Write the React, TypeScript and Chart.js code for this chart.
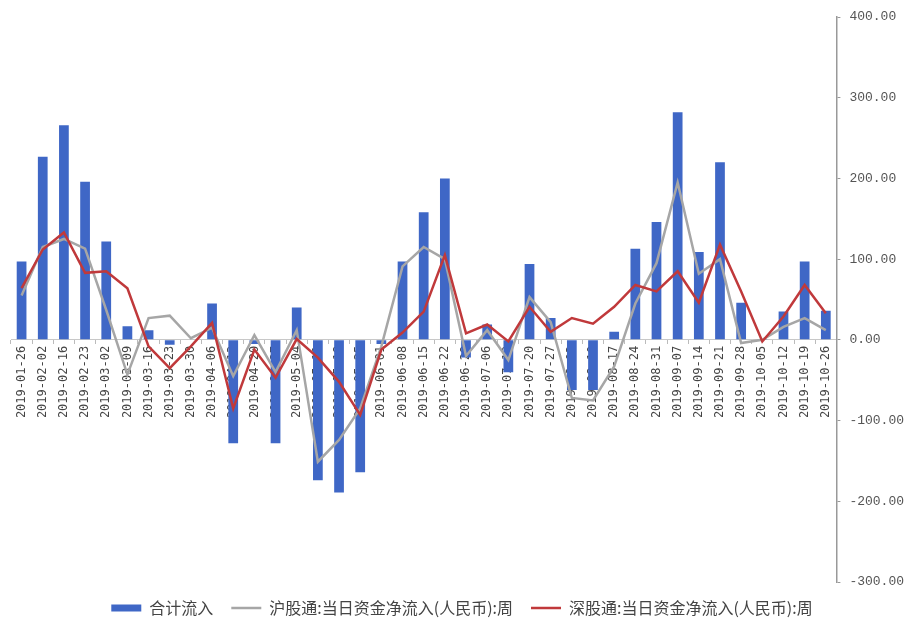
import React, { useEffect, useRef } from "react";
import { Chart, registerables } from "chart.js";

Chart.register(...registerables);

const categories = [
  "2019-01-26", "2019-02-02", "2019-02-16", "2019-02-23", "2019-03-02", "2019-03-09",
  "2019-03-16", "2019-03-23", "2019-03-30", "2019-04-06", "2019-04-13", "2019-04-20",
  "2019-04-27", "2019-05-04", "2019-05-11", "2019-05-18", "2019-05-25", "2019-06-01",
  "2019-06-08", "2019-06-15", "2019-06-22", "2019-06-29", "2019-07-06", "2019-07-13",
  "2019-07-20", "2019-07-27", "2019-08-03", "2019-08-10", "2019-08-17", "2019-08-24",
  "2019-08-31", "2019-09-07", "2019-09-14", "2019-09-21", "2019-09-28", "2019-10-05",
  "2019-10-12", "2019-10-19", "2019-10-26",
];

const totalInflow = [
  97, 227, 266, 196, 122, 17, 12, -6, 0, 45, -128, -5, -128, 40, -174, -189, -164, -5,
  97, 158, 200, -22, 19, -40, 94, 27, -62, -62, 10, 113, 146, 282, 109, 220, 46, 1,
  35, 97, 36,
];

const shanghaiConnect = [
  55, 115, 125, 113, 37, -43, 27, 30, 2, 15, -45, 6, -40, 12, -151, -124, -85, -8,
  91, 115, 100, -20, 12, -25, 53, 22, -72, -75, -33, 45, 95, 195, 82, 100, -4, 0,
  16, 27, 12,
];

const shenzhenConnect = [
  64, 112, 133, 83, 85, 64, -8, -35, -8, 21, -85, -12, -47, 1, -22, -52, -93, -12,
  9, 35, 105, 8, 19, -2, 41, 10, 27, 20, 41, 68, 60, 85, 46, 118, 60, -2,
  29, 68, 33,
];

const seriesNames = [
  "合计流入",
  "沪股通:当日资金净流入(人民币):周",
  "深股通:当日资金净流入(人民币):周",
];

const yTicks = [-300, -200, -100, 0, 100, 200, 300, 400];

export default function App() {
  const canvasRef = useRef<HTMLCanvasElement | null>(null);

  useEffect(() => {
    document.body.style.margin = "0";
    const canvas = canvasRef.current;
    if (!canvas) return;
    const chart = new Chart(canvas, {
      type: "bar",
      data: {
        labels: categories,
        datasets: [
          {
            type: "bar",
            label: seriesNames[0],
            data: totalInflow,
            backgroundColor: "#3F67C6",
            borderWidth: 0,
            barPercentage: 0.46,
            categoryPercentage: 1,
            order: 3,
            pointStyle: "rect",
          } as any,
          {
            type: "line",
            label: seriesNames[1],
            data: shanghaiConnect,
            borderColor: "#A6A6A6",
            backgroundColor: "#A6A6A6",
            borderWidth: 2.5,
            pointRadius: 0,
            tension: 0,
            order: 2,
            pointStyle: "line",
          } as any,
          {
            type: "line",
            label: seriesNames[2],
            data: shenzhenConnect,
            borderColor: "#C0393B",
            backgroundColor: "#C0393B",
            borderWidth: 2.5,
            pointRadius: 0,
            tension: 0,
            order: 1,
            pointStyle: "line",
          } as any,
        ],
      },
      options: {
        responsive: false,
        animation: false,
        layout: { padding: { top: 17, left: 11, right: 1, bottom: -2 } },
        plugins: {
          tooltip: { enabled: false },
          legend: {
            position: "bottom",
            labels: {
              usePointStyle: true,
              pointStyleWidth: 30,
              boxHeight: 7,
              padding: 18,
              color: "#444",
              font: { family: "'Noto Sans CJK SC', sans-serif", size: 16 },
              sort: (a: any, b: any) => a.datasetIndex - b.datasetIndex,
            },
          },
        },
        scales: {
          x: {
            position: { y: 0 } as any,
            grid: {
              offset: true,
              drawOnChartArea: false,
              drawTicks: true,
              tickLength: 4,
              color: "#BBBBBB",
            },
            border: { color: "#C8C8C8", width: 1 },
            ticks: {
              autoSkip: false,
              maxRotation: 90,
              minRotation: 90,
              padding: 2,
              color: "#444",
              font: { family: "'DejaVu Sans Mono', monospace", size: 12 },
            },
          },
          y: {
            position: "right",
            min: -300,
            max: 400,
            afterBuildTicks: (axis: any) => {
              axis.ticks = yTicks.map((v) => ({ value: v }));
            },
            grid: {
              drawOnChartArea: false,
              drawTicks: true,
              tickLength: 4,
              color: "#999",
            },
            border: { color: "#999", width: 1.5 },
            ticks: {
              padding: 9,
              color: "#555",
              font: { family: "'Liberation Mono', monospace", size: 13 },
              callback: (v: any) => Number(v).toFixed(2),
            },
          },
        },
      },
    });
    return () => chart.destroy();
  }, []);

  return (
    <div style={{ width: 914, height: 624, position: "relative", background: "#fff" }}>
      <canvas ref={canvasRef} width={914} height={624} />
    </div>
  );
}
